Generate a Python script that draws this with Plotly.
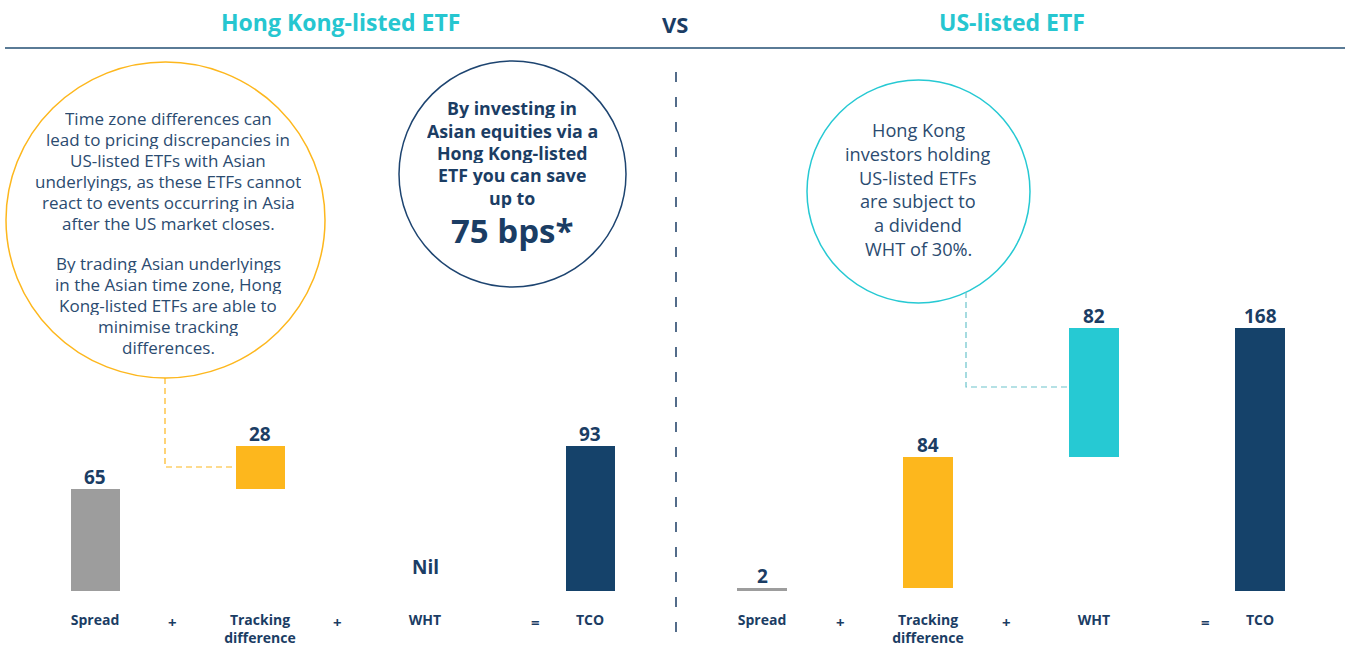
import plotly.graph_objects as go

# ---------------- data ----------------
categories = ["Spread", "Tracking difference", "WHT", "TCO"]
tick_labels = ["Spread", "Tracking<br>difference", "WHT", "TCO"]
hk_values = [65, 28, 0, 93]
us_values = [2, 84, 82, 168]
operators = ["+", "+", "="]
bar_colors = ["#9d9d9d", "#fdb71d", "#26c9d3", "#15426a"]

hk_title = "Hong Kong-listed ETF"
us_title = "US-listed ETF"

hk_note = ["Time zone differences can", "lead to pricing discrepancies in", "US-listed ETFs with Asian",
           "underlyings, as these ETFs cannot", "react to events occurring in Asia",
           "after the US market closes."]
hk_note2 = ["By trading Asian underlyings", "in the Asian time zone, Hong", "Kong-listed ETFs are able to",
            "minimise tracking", "differences."]
save_note = ["By investing in", "Asian equities via a", "Hong Kong-listed", "ETF you can save", "up to"]
save_big = "75 bps*"
us_note = ["Hong Kong", "investors holding", "US-listed ETFs", "are subject to", "a dividend", "WHT of 30%."]

# ---------------- helpers ----------------
W, H = 1348, 646
NAVY = "#1b3d64"
BODY = "#2b4b70"
CYAN = "#26c6d0"
FONT = "Open Sans"


def px(x):
    return x / W


def py(y):
    return 1 - y / H


def waterfall_bases(vals):
    bases, run = [], 0
    for i, v in enumerate(vals):
        if i == len(vals) - 1:
            bases.append(0)
        else:
            bases.append(run)
            run += v
    return bases


hk_bases = waterfall_bases(hk_values)
us_bases = waterfall_bases(us_values)

fig = go.Figure()
for vals, bases, xa in [(hk_values, hk_bases, "x"), (us_values, us_bases, "x2")]:
    fig.add_trace(go.Bar(
        x=categories, y=vals, base=bases, width=0.3,
        marker=dict(color=bar_colors, line=dict(width=0)),
        xaxis=xa, yaxis="y", showlegend=False, hoverinfo="skip",
    ))

annotations = []
# value labels
for vals, bases, xa in [(hk_values, hk_bases, "x"), (us_values, us_bases, "x2")]:
    for c, v, b in zip(categories, vals, bases):
        annotations.append(dict(
            x=c, y=(0 if v == 0 else b + v), xref=xa, yref="y",
            yanchor="bottom", xanchor="center",
            text="<b>%s</b>" % ("Nil" if v == 0 else v), showarrow=False,
            yshift=9 if v == 0 else -3,
            font=dict(family=FONT, size=19, color=NAVY)))

# operators between categories
op_pos = [0.47, 1.47, 2.67]
for xa in ["x", "x2"]:
    for o, p in zip(operators, op_pos):
        annotations.append(dict(
            x=p, y=0, xref=xa, yref="y", yanchor="top", xanchor="center", yshift=-19,
            text="<b>%s</b>" % o, showarrow=False,
            font=dict(family=FONT, size=15, color=NAVY)))


def note(x, y, text, size, color, height=None):
    d = dict(x=px(x), y=py(y), xref="paper", yref="paper", xanchor="center",
             yanchor="middle", text=text, showarrow=False, align="center",
             font=dict(family=FONT, size=size, color=color))
    if height:
        d["height"] = height
        d["valign"] = "middle"
    return d


def lines(x, y0, step, texts, size, color, bold=False):
    out = []
    for i, t in enumerate(texts):
        out.append(note(x, y0 + i * step, ("<b>%s</b>" % t) if bold else t, size, color,
                        height=int(step) - 1))
    return out


annotations += [
    note(340, 22, "<b>%s</b>" % hk_title, 23, CYAN),
    note(675, 24, "<b>VS</b>", 22, NAVY),
    note(1012, 22, "<b>%s</b>" % us_title, 23, CYAN),
    note(512, 230, "<b>%s</b>" % save_big, 33, NAVY),
]
annotations += lines(168, 118, 21, hk_note, 17, BODY)
annotations += lines(168, 263, 21, hk_note2, 17, BODY)
annotations += lines(512, 108, 22.3, save_note, 17.8, NAVY, bold=True)
annotations += lines(918, 130, 23.8, us_note, 18.2, BODY)

shapes = [
    # header rule
    dict(type="line", xref="paper", yref="paper", x0=px(5), x1=px(1345), y0=py(48), y1=py(48),
         line=dict(color="#5a7b96", width=2)),
    # vertical divider
    dict(type="line", xref="paper", yref="paper", x0=px(676), x1=px(676), y0=py(72), y1=py(646),
         line=dict(color=NAVY, width=1.5, dash="10px,15px")),
    # circles
    dict(type="circle", xref="paper", yref="paper", x0=px(6), x1=px(325), y0=py(378), y1=py(62),
         line=dict(color="#fdb71d", width=1.5)),
    dict(type="circle", xref="paper", yref="paper", x0=px(399), x1=px(626), y0=py(287), y1=py(61),
         line=dict(color="#1d4470", width=1.5)),
    dict(type="circle", xref="paper", yref="paper", x0=px(807), x1=px(1030), y0=py(303), y1=py(80),
         line=dict(color="#26c9d3", width=1.5)),
    # connectors
    dict(type="path", xref="paper", yref="paper",
         path="M %f,%f L %f,%f L %f,%f" % (px(165), py(378), px(165), py(467), px(236), py(467)),
         line=dict(color="#fdb71d", width=1.2, dash="6px,4px")),
    dict(type="path", xref="paper", yref="paper",
         path="M %f,%f L %f,%f L %f,%f" % (px(966), py(292), px(966), py(387), px(1071), py(387)),
         line=dict(color="#6cc4cc", width=1.2, dash="6px,4px")),
]

axis_common = dict(showgrid=False, zeroline=False, showline=False, ticks="",
                   tickfont=dict(family=FONT, size=14, color=NAVY),
                   tickmode="array", tickvals=categories,
                   ticktext=["<b>%s</b>" % t for t in tick_labels],
                   ticklabelstandoff=19, fixedrange=True, automargin=False)

fig.update_layout(
    width=W, height=H,
    margin=dict(l=0, r=0, t=0, b=0, pad=0, autoexpand=False),
    paper_bgcolor="white", plot_bgcolor="rgba(0,0,0,0)",
    xaxis=dict(domain=[12.5 / W, 672.5 / W], anchor="y", range=[-0.5, 3.5], **axis_common),
    xaxis2=dict(domain=[679 / W, 1343 / W], anchor="y", range=[-0.5, 3.5], **axis_common),
    yaxis=dict(domain=[55 / H, 1], range=[0, 591 / 1.564], showgrid=False, zeroline=False,
               showticklabels=False, showline=False, fixedrange=True, automargin=False),
    annotations=annotations, shapes=shapes, bargap=0,
    font=dict(family=FONT),
)

fig.write_html("out.html", config={"displayModeBar": False},
               post_script="document.body.style.margin='0';document.body.style.overflow='hidden';")
